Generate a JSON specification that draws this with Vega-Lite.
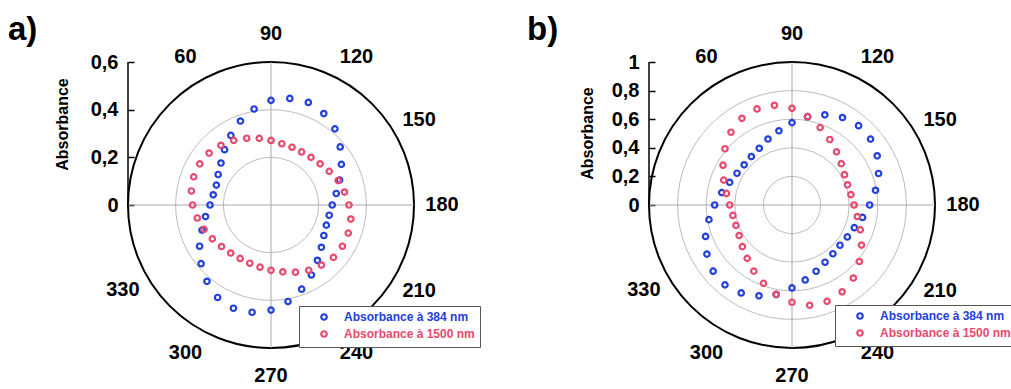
{
  "$schema": "https://vega.github.io/schema/vega-lite/v6.json",
  "autosize": "pad",
  "padding": {"left": 8, "top": 14, "right": 0, "bottom": 0},
  "background": "white",
  "spacing": 235,
  "bounds": "flush",
  "config": {
    "view": {"stroke": null},
    "font": "Liberation Sans",
    "text": {"font": "Liberation Sans"}
  },
  "resolve": {
    "scale": {"x": "independent", "y": "independent", "radius": "independent", "theta": "independent", "color": "independent"},
    "legend": {"color": "independent"}
  },
  "datasets": {
    "pa": [
      {"angle": 0, "Absorbance à 384 nm": 0.256, "Absorbance à 1500 nm": 0.329},
      {"angle": 10, "Absorbance à 384 nm": 0.246, "Absorbance à 1500 nm": 0.339},
      {"angle": 20, "Absorbance à 384 nm": 0.244, "Absorbance à 1500 nm": 0.345},
      {"angle": 30, "Absorbance à 384 nm": 0.256, "Absorbance à 1500 nm": 0.345},
      {"angle": 40, "Absorbance à 384 nm": 0.274, "Absorbance à 1500 nm": 0.339},
      {"angle": 50, "Absorbance à 384 nm": 0.303, "Absorbance à 1500 nm": 0.327},
      {"angle": 60, "Absorbance à 384 nm": 0.337, "Absorbance à 1500 nm": 0.313},
      {"angle": 70, "Absorbance à 384 nm": 0.375, "Absorbance à 1500 nm": 0.298},
      {"angle": 80, "Absorbance à 384 nm": 0.409, "Absorbance à 1500 nm": 0.284},
      {"angle": 90, "Absorbance à 384 nm": 0.439, "Absorbance à 1500 nm": 0.271},
      {"angle": 100, "Absorbance à 384 nm": 0.454, "Absorbance à 1500 nm": 0.261},
      {"angle": 110, "Absorbance à 384 nm": 0.458, "Absorbance à 1500 nm": 0.258},
      {"angle": 120, "Absorbance à 384 nm": 0.443, "Absorbance à 1500 nm": 0.257},
      {"angle": 130, "Absorbance à 384 nm": 0.417, "Absorbance à 1500 nm": 0.261},
      {"angle": 140, "Absorbance à 384 nm": 0.379, "Absorbance à 1500 nm": 0.269},
      {"angle": 150, "Absorbance à 384 nm": 0.341, "Absorbance à 1500 nm": 0.282},
      {"angle": 160, "Absorbance à 384 nm": 0.306, "Absorbance à 1500 nm": 0.300},
      {"angle": 170, "Absorbance à 384 nm": 0.278, "Absorbance à 1500 nm": 0.313},
      {"angle": 180, "Absorbance à 384 nm": 0.257, "Absorbance à 1500 nm": 0.327},
      {"angle": 190, "Absorbance à 384 nm": 0.248, "Absorbance à 1500 nm": 0.340},
      {"angle": 200, "Absorbance à 384 nm": 0.247, "Absorbance à 1500 nm": 0.345},
      {"angle": 210, "Absorbance à 384 nm": 0.256, "Absorbance à 1500 nm": 0.346},
      {"angle": 220, "Absorbance à 384 nm": 0.276, "Absorbance à 1500 nm": 0.342},
      {"angle": 230, "Absorbance à 384 nm": 0.303, "Absorbance à 1500 nm": 0.329},
      {"angle": 240, "Absorbance à 384 nm": 0.339, "Absorbance à 1500 nm": 0.316},
      {"angle": 250, "Absorbance à 384 nm": 0.376, "Absorbance à 1500 nm": 0.300},
      {"angle": 260, "Absorbance à 384 nm": 0.411, "Absorbance à 1500 nm": 0.285},
      {"angle": 270, "Absorbance à 384 nm": 0.441, "Absorbance à 1500 nm": 0.274},
      {"angle": 280, "Absorbance à 384 nm": 0.457, "Absorbance à 1500 nm": 0.265},
      {"angle": 290, "Absorbance à 384 nm": 0.461, "Absorbance à 1500 nm": 0.260},
      {"angle": 300, "Absorbance à 384 nm": 0.448, "Absorbance à 1500 nm": 0.259},
      {"angle": 310, "Absorbance à 384 nm": 0.418, "Absorbance à 1500 nm": 0.263},
      {"angle": 320, "Absorbance à 384 nm": 0.383, "Absorbance à 1500 nm": 0.271},
      {"angle": 330, "Absorbance à 384 nm": 0.346, "Absorbance à 1500 nm": 0.284},
      {"angle": 340, "Absorbance à 384 nm": 0.308, "Absorbance à 1500 nm": 0.299},
      {"angle": 350, "Absorbance à 384 nm": 0.279, "Absorbance à 1500 nm": 0.314}
    ],
    "pb": [
      {"angle": 0, "Absorbance à 384 nm": 0.541, "Absorbance à 1500 nm": 0.436},
      {"angle": 10, "Absorbance à 384 nm": 0.499, "Absorbance à 1500 nm": 0.466},
      {"angle": 20, "Absorbance à 384 nm": 0.464, "Absorbance à 1500 nm": 0.508},
      {"angle": 30, "Absorbance à 384 nm": 0.444, "Absorbance à 1500 nm": 0.557},
      {"angle": 40, "Absorbance à 384 nm": 0.437, "Absorbance à 1500 nm": 0.612},
      {"angle": 50, "Absorbance à 384 nm": 0.442, "Absorbance à 1500 nm": 0.664},
      {"angle": 60, "Absorbance à 384 nm": 0.458, "Absorbance à 1500 nm": 0.700},
      {"angle": 70, "Absorbance à 384 nm": 0.491, "Absorbance à 1500 nm": 0.715},
      {"angle": 80, "Absorbance à 384 nm": 0.527, "Absorbance à 1500 nm": 0.708},
      {"angle": 90, "Absorbance à 384 nm": 0.576, "Absorbance à 1500 nm": 0.676},
      {"angle": 100, "Absorbance à 384 nm": 0.627, "Absorbance à 1500 nm": 0.627},
      {"angle": 110, "Absorbance à 384 nm": 0.671, "Absorbance à 1500 nm": 0.576},
      {"angle": 120, "Absorbance à 384 nm": 0.706, "Absorbance à 1500 nm": 0.529},
      {"angle": 130, "Absorbance à 384 nm": 0.724, "Absorbance à 1500 nm": 0.485},
      {"angle": 140, "Absorbance à 384 nm": 0.717, "Absorbance à 1500 nm": 0.450},
      {"angle": 150, "Absorbance à 384 nm": 0.688, "Absorbance à 1500 nm": 0.424},
      {"angle": 160, "Absorbance à 384 nm": 0.644, "Absorbance à 1500 nm": 0.413},
      {"angle": 170, "Absorbance à 384 nm": 0.593, "Absorbance à 1500 nm": 0.418},
      {"angle": 180, "Absorbance à 384 nm": 0.543, "Absorbance à 1500 nm": 0.434},
      {"angle": 190, "Absorbance à 384 nm": 0.501, "Absorbance à 1500 nm": 0.464},
      {"angle": 200, "Absorbance à 384 nm": 0.464, "Absorbance à 1500 nm": 0.508},
      {"angle": 210, "Absorbance à 384 nm": 0.447, "Absorbance à 1500 nm": 0.561},
      {"angle": 220, "Absorbance à 384 nm": 0.438, "Absorbance à 1500 nm": 0.615},
      {"angle": 230, "Absorbance à 384 nm": 0.445, "Absorbance à 1500 nm": 0.667},
      {"angle": 240, "Absorbance à 384 nm": 0.462, "Absorbance à 1500 nm": 0.701},
      {"angle": 250, "Absorbance à 384 nm": 0.493, "Absorbance à 1500 nm": 0.717},
      {"angle": 260, "Absorbance à 384 nm": 0.532, "Absorbance à 1500 nm": 0.712},
      {"angle": 270, "Absorbance à 384 nm": 0.580, "Absorbance à 1500 nm": 0.680},
      {"angle": 280, "Absorbance à 384 nm": 0.636, "Absorbance à 1500 nm": 0.634},
      {"angle": 290, "Absorbance à 384 nm": 0.676, "Absorbance à 1500 nm": 0.583},
      {"angle": 300, "Absorbance à 384 nm": 0.710, "Absorbance à 1500 nm": 0.534},
      {"angle": 310, "Absorbance à 384 nm": 0.729, "Absorbance à 1500 nm": 0.487},
      {"angle": 320, "Absorbance à 384 nm": 0.720, "Absorbance à 1500 nm": 0.453},
      {"angle": 330, "Absorbance à 384 nm": 0.687, "Absorbance à 1500 nm": 0.427},
      {"angle": 340, "Absorbance à 384 nm": 0.643, "Absorbance à 1500 nm": 0.417},
      {"angle": 350, "Absorbance à 384 nm": 0.590, "Absorbance à 1500 nm": 0.420}
    ],
    "labels": [
      {"angle": 60}, {"angle": 90}, {"angle": 120}, {"angle": 150}, {"angle": 180},
      {"angle": 210}, {"angle": 240}, {"angle": 270}, {"angle": 300}, {"angle": 330}
    ]
  },
  "hconcat": [
    {
      "width": 286,
      "height": 286,
      "title": {"text": "a)", "anchor": "start", "frame": "group", "dx": -120, "dy": 23, "offset": 0, "fontSize": 33, "fontWeight": "bold", "font": "Liberation Sans", "color": "black"},
      "layer": [
        {
          "data": {"values": [{"r": 0.2}, {"r": 0.4}]},
          "mark": {"type": "arc", "theta": 0, "theta2": 6.2832, "filled": false, "stroke": "#bcbcbc", "strokeWidth": 1},
          "encoding": {
            "x": {"datum": 0, "type": "quantitative", "scale": {"domain": [-0.6, 0.6], "nice": false, "zero": false}, "axis": null},
            "y": {"datum": 0, "type": "quantitative", "scale": {"domain": [-0.6, 0.6], "nice": false, "zero": false},
              "axis": {"values": [0, 0.2, 0.4, 0.6], "domain": false, "grid": false, "ticks": true, "tickSize": -6, "tickWidth": 1.5, "tickColor": "black", "labelPadding": 16, "labelFont": "Liberation Sans", "labelFontSize": 20, "labelFontWeight": "bold", "labelColor": "black", "labelExpr": "replace(format(datum.value, '.1~f'), '.', ',')", "title": "Absorbance", "titleFont": "Liberation Sans", "titleFontSize": 16, "titleFontWeight": "bold", "titleColor": "black", "titleAngle": -90, "titleAlign": "center", "titleBaseline": "middle", "titleX": -66, "titleY": 62}},
            "radius": {"field": "r", "type": "quantitative", "stack": null, "scale": {"type": "linear", "domain": [0, 0.6], "range": [0, 143], "zero": true}}
          }
        },
        {
          "data": {"values": [{"r": 0.6}]},
          "mark": {"type": "arc", "theta": 0, "theta2": 6.2832, "filled": false, "stroke": "black", "strokeWidth": 2},
          "encoding": {
            "x": {"datum": 0, "type": "quantitative"},
            "y": {"datum": 0, "type": "quantitative"},
            "radius": {"field": "r", "type": "quantitative", "stack": null}
          }
        },
        {
          "data": {"values": [{}]},
          "mark": {"type": "rule", "color": "#a8a8a8", "strokeWidth": 1},
          "encoding": {"x": {"datum": -0.6}, "x2": {"datum": 0.6}, "y": {"datum": 0}}
        },
        {
          "data": {"values": [{}]},
          "mark": {"type": "rule", "color": "#a8a8a8", "strokeWidth": 1},
          "encoding": {"x": {"datum": 0}, "y": {"datum": -0.6}, "y2": {"datum": 0.6}}
        },
        {
          "data": {"values": [{}]},
          "mark": {"type": "rule", "color": "black", "strokeWidth": 1.5},
          "encoding": {"x": {"datum": -0.6}, "y": {"datum": 0}, "y2": {"datum": 0.6}}
        },
        {
          "data": {"name": "labels"},
          "mark": {"type": "text", "radius": 171, "fontSize": 20, "fontWeight": "bold", "font": "Liberation Sans", "color": "black", "align": "center", "baseline": "middle"},
          "encoding": {
            "x": {"datum": 0, "type": "quantitative"},
            "y": {"datum": 0, "type": "quantitative"},
            "theta": {"field": "angle", "type": "quantitative", "stack": null, "scale": {"domain": [0, 360], "range": [-1.5708, 4.7124]}},
            "text": {"field": "angle", "type": "quantitative"}
          }
        },
        {
          "data": {"name": "pa"},
          "transform": [
            {"fold": ["Absorbance à 384 nm", "Absorbance à 1500 nm"], "as": ["s", "abs"]},
            {"calculate": "-datum.abs * cos(datum.angle * PI / 180)", "as": "px"},
            {"calculate": "datum.abs * sin(datum.angle * PI / 180)", "as": "py"}
          ],
          "mark": {"type": "point", "shape": "circle", "filled": false, "size": 30, "strokeWidth": 2.2, "opacity": 1},
          "encoding": {
            "x": {"field": "px", "type": "quantitative"},
            "y": {"field": "py", "type": "quantitative"},
            "color": {"field": "s", "type": "nominal", "sort": null,
              "scale": {"domain": ["Absorbance à 384 nm", "Absorbance à 1500 nm"], "range": ["#2340dc", "#e84a6e"]},
              "legend": {"orient": "none", "legendX": 171, "legendY": 244, "title": null, "strokeColor": "#555555", "fillColor": "white", "padding": 5, "symbolType": "circle", "symbolSize": 30, "symbolStrokeWidth": 2.2, "symbolOffset": 14, "labelOffset": 14, "rowPadding": 1, "labelFont": "Liberation Sans", "labelFontSize": 12, "labelFontWeight": "bold", "labelColor": {"expr": "indexof(datum.label, '384') >= 0 ? '#2340dc' : '#e84a6e'"}}
            }
          }
        }
      ]
    },
    {
      "width": 286,
      "height": 286,
      "title": {"text": "b)", "anchor": "start", "frame": "group", "dx": -122, "dy": 23, "offset": 0, "fontSize": 33, "fontWeight": "bold", "font": "Liberation Sans", "color": "black"},
      "layer": [
        {
          "data": {"values": [{"r": 0.2}, {"r": 0.4}, {"r": 0.6}, {"r": 0.8}]},
          "mark": {"type": "arc", "theta": 0, "theta2": 6.2832, "filled": false, "stroke": "#bcbcbc", "strokeWidth": 1},
          "encoding": {
            "x": {"datum": 0, "type": "quantitative", "scale": {"domain": [-1, 1], "nice": false, "zero": false}, "axis": null},
            "y": {"datum": 0, "type": "quantitative", "scale": {"domain": [-1, 1], "nice": false, "zero": false},
              "axis": {"values": [0, 0.2, 0.4, 0.6, 0.8, 1], "domain": false, "grid": false, "ticks": true, "tickSize": -6, "tickWidth": 1.5, "tickColor": "black", "labelPadding": 16, "labelFont": "Liberation Sans", "labelFontSize": 20, "labelFontWeight": "bold", "labelColor": "black", "labelExpr": "replace(format(datum.value, '.1~f'), '.', ',')", "title": "Absorbance", "titleFont": "Liberation Sans", "titleFontSize": 16, "titleFontWeight": "bold", "titleColor": "black", "titleAngle": -90, "titleAlign": "center", "titleBaseline": "middle", "titleX": -62, "titleY": 71}},
            "radius": {"field": "r", "type": "quantitative", "stack": null, "scale": {"type": "linear", "domain": [0, 1], "range": [0, 143], "zero": true}}
          }
        },
        {
          "data": {"values": [{"r": 1}]},
          "mark": {"type": "arc", "theta": 0, "theta2": 6.2832, "filled": false, "stroke": "black", "strokeWidth": 2},
          "encoding": {
            "x": {"datum": 0, "type": "quantitative"},
            "y": {"datum": 0, "type": "quantitative"},
            "radius": {"field": "r", "type": "quantitative", "stack": null}
          }
        },
        {
          "data": {"values": [{}]},
          "mark": {"type": "rule", "color": "#a8a8a8", "strokeWidth": 1},
          "encoding": {"x": {"datum": -1}, "x2": {"datum": 1}, "y": {"datum": 0}}
        },
        {
          "data": {"values": [{}]},
          "mark": {"type": "rule", "color": "#a8a8a8", "strokeWidth": 1},
          "encoding": {"x": {"datum": 0}, "y": {"datum": -1}, "y2": {"datum": 1}}
        },
        {
          "data": {"values": [{}]},
          "mark": {"type": "rule", "color": "black", "strokeWidth": 1.5},
          "encoding": {"x": {"datum": -1}, "y": {"datum": 0}, "y2": {"datum": 1}}
        },
        {
          "data": {"name": "labels"},
          "mark": {"type": "text", "radius": 171, "fontSize": 20, "fontWeight": "bold", "font": "Liberation Sans", "color": "black", "align": "center", "baseline": "middle"},
          "encoding": {
            "x": {"datum": 0, "type": "quantitative"},
            "y": {"datum": 0, "type": "quantitative"},
            "theta": {"field": "angle", "type": "quantitative", "stack": null, "scale": {"domain": [0, 360], "range": [-1.5708, 4.7124]}},
            "text": {"field": "angle", "type": "quantitative"}
          }
        },
        {
          "data": {"name": "pb"},
          "transform": [
            {"fold": ["Absorbance à 384 nm", "Absorbance à 1500 nm"], "as": ["s", "abs"]},
            {"calculate": "-datum.abs * cos(datum.angle * PI / 180)", "as": "px"},
            {"calculate": "datum.abs * sin(datum.angle * PI / 180)", "as": "py"}
          ],
          "mark": {"type": "point", "shape": "circle", "filled": false, "size": 30, "strokeWidth": 2.2, "opacity": 1},
          "encoding": {
            "x": {"field": "px", "type": "quantitative"},
            "y": {"field": "py", "type": "quantitative"},
            "color": {"field": "s", "type": "nominal", "sort": null,
              "scale": {"domain": ["Absorbance à 384 nm", "Absorbance à 1500 nm"], "range": ["#2340dc", "#e84a6e"]},
              "legend": {"orient": "none", "legendX": 186, "legendY": 243, "title": null, "strokeColor": "#555555", "fillColor": "white", "padding": 5, "symbolType": "circle", "symbolSize": 30, "symbolStrokeWidth": 2.2, "symbolOffset": 14, "labelOffset": 14, "rowPadding": 1, "labelFont": "Liberation Sans", "labelFontSize": 12, "labelFontWeight": "bold", "labelColor": {"expr": "indexof(datum.label, '384') >= 0 ? '#2340dc' : '#e84a6e'"}}
            }
          }
        }
      ]
    }
  ]
}
